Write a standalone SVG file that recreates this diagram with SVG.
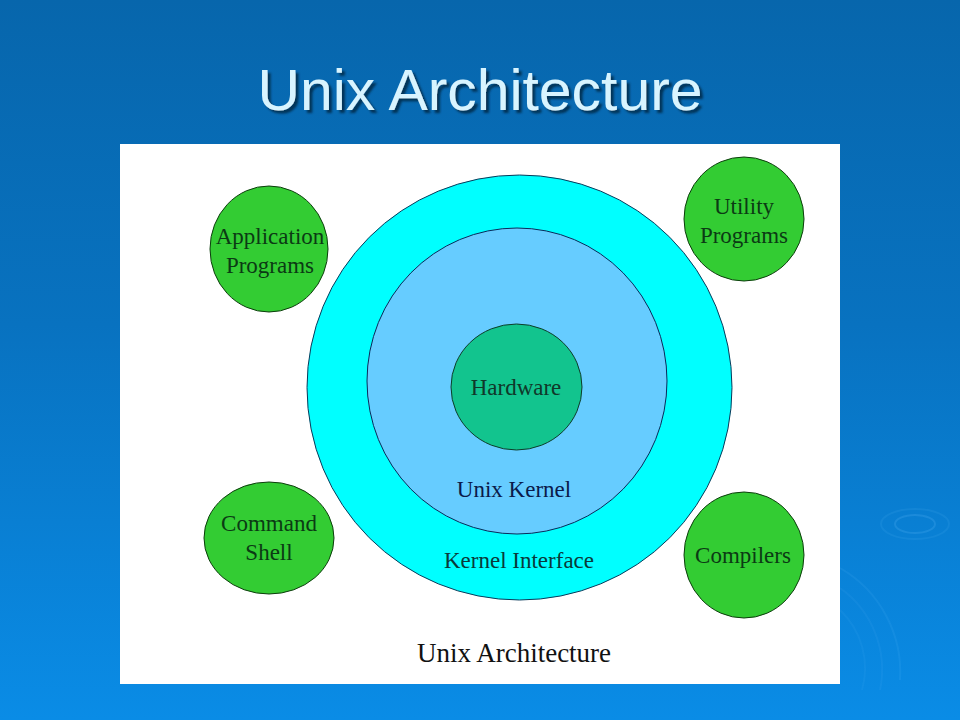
<svg xmlns="http://www.w3.org/2000/svg" width="960" height="720" viewBox="0 0 960 720">
<defs>
<linearGradient id="bg" x1="0" y1="0" x2="0" y2="1">
<stop offset="0" stop-color="#0766ac"/>
<stop offset="0.45" stop-color="#0872c0"/>
<stop offset="1" stop-color="#0a8ce6"/>
</linearGradient>
<filter id="shadow" x="-5%" y="-20%" width="110%" height="140%">
<feDropShadow dx="3" dy="3" stdDeviation="1.2" flood-color="#062a48" flood-opacity="0.85"/>
</filter>
</defs>
<style>
.lbl{font-family:"Liberation Serif","Times New Roman",serif;font-size:23px;text-anchor:middle}
.g{fill:#33cc33;stroke:#0d3d0d;stroke-width:1}
.gt{fill:#0b3a14}
.rip{fill:none;stroke:#6fc4ff;stroke-width:2}
</style>
<rect width="960" height="720" fill="url(#bg)"/>
<g id="ripples">
<ellipse class="rip" cx="915" cy="524" rx="20" ry="9" stroke-opacity="0.18"/>
<ellipse class="rip" cx="915" cy="524" rx="34" ry="15" stroke-opacity="0.1"/>
<path class="rip" d="M840,568 A120,120 0 0 1 900,680" stroke-opacity="0.1"/>
<path class="rip" d="M840,588 A100,100 0 0 1 880,690" stroke-opacity="0.08"/>
<path class="rip" d="M840,610 A80,80 0 0 1 862,690" stroke-opacity="0.07"/>
</g>
<text id="title" x="480" y="110" font-family="Liberation Sans,Arial,sans-serif" font-size="58" textLength="445" lengthAdjust="spacingAndGlyphs" text-anchor="middle" fill="#d8f4ff" filter="url(#shadow)">Unix Architecture</text>
<rect id="panel" x="120" y="144" width="720" height="540" fill="#ffffff"/>
<g id="kernel-interface">
<ellipse cx="519.5" cy="387.5" rx="212.5" ry="212.5" fill="#00ffff" stroke="#0a3a5a" stroke-width="1"/>
<text class="lbl" x="519" y="568" fill="#0a3a3a">Kernel Interface</text>
</g>
<g id="unix-kernel">
<ellipse cx="517" cy="381" rx="150" ry="153" fill="#66ccff" stroke="#0a2a5a" stroke-width="1"/>
<text class="lbl" x="514" y="497" fill="#0a1a4a">Unix Kernel</text>
</g>
<g id="hardware">
<ellipse cx="516.5" cy="387" rx="65.5" ry="63" fill="#12c48e" stroke="#0d3d2a" stroke-width="1"/>
<text class="lbl" x="516" y="395" fill="#10382a">Hardware</text>
</g>
<g id="application-programs">
<ellipse class="g" cx="269" cy="249" rx="59" ry="63"/>
<text class="lbl gt" x="270" y="244">Application</text>
<text class="lbl gt" x="270" y="273">Programs</text>
</g>
<g id="utility-programs">
<ellipse class="g" cx="744" cy="219" rx="60" ry="62"/>
<text class="lbl gt" x="744" y="214">Utility</text>
<text class="lbl gt" x="744" y="243">Programs</text>
</g>
<g id="command-shell">
<ellipse class="g" cx="269" cy="538" rx="65" ry="56"/>
<text class="lbl gt" x="269" y="531">Command</text>
<text class="lbl gt" x="269" y="560">Shell</text>
</g>
<g id="compilers">
<ellipse class="g" cx="744" cy="555" rx="60" ry="63"/>
<text class="lbl gt" x="743" y="563">Compilers</text>
</g>
<g id="connectors"/>
<text id="caption" x="514" y="662" font-family="Liberation Serif,Times New Roman,serif" font-size="27" text-anchor="middle" fill="#111111">Unix Architecture</text>
</svg>
